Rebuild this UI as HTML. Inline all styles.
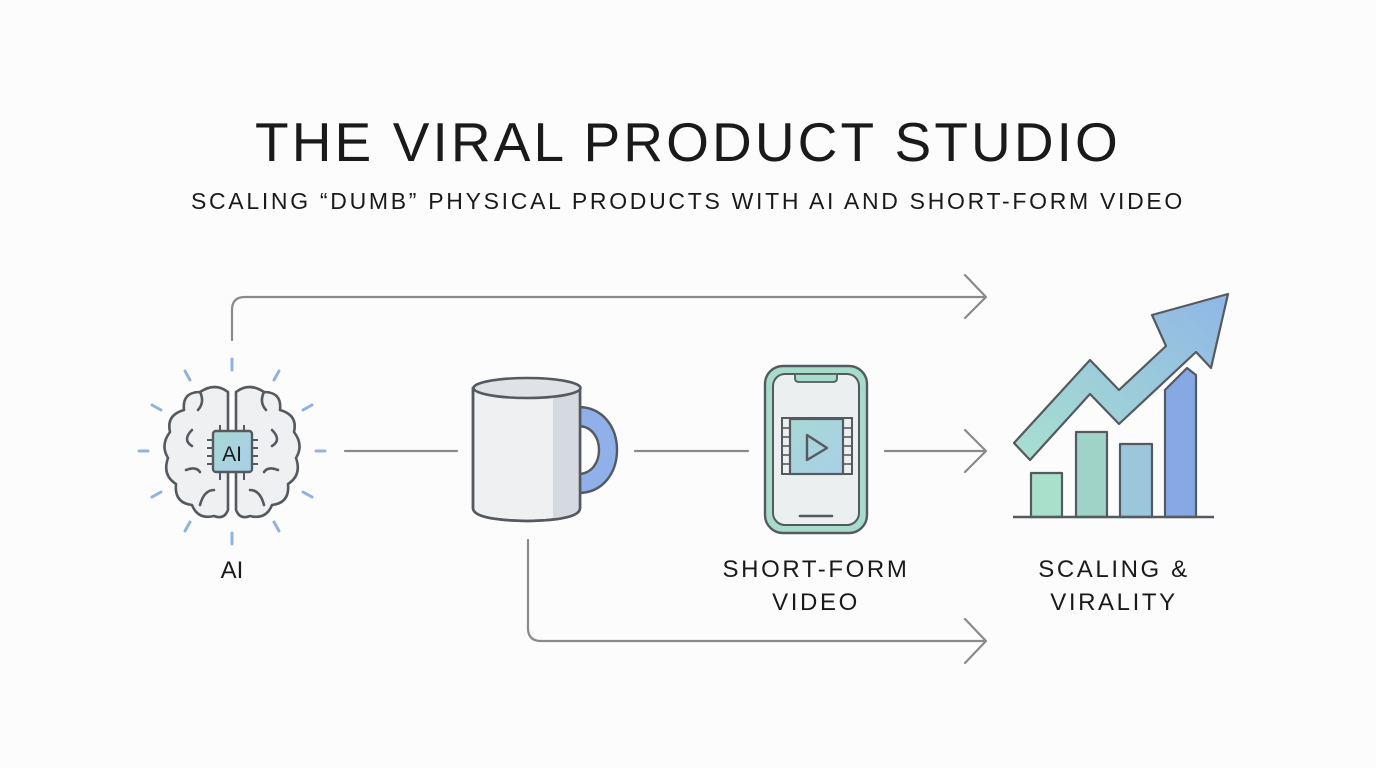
<!DOCTYPE html>
<html><head><meta charset="utf-8"><style>
html,body{margin:0;padding:0;background:#fcfcfc;}
svg{display:block;}
text{font-family:"Liberation Sans",sans-serif;fill:#1a1a1a;}
</style></head><body>
<svg width="1376" height="768" viewBox="0 0 1376 768" xmlns="http://www.w3.org/2000/svg">
<defs>
<linearGradient id="g1" x1="0" y1="1" x2="1" y2="0"><stop offset="0" stop-color="#a8e0cf"/><stop offset="1" stop-color="#8fb6e6"/></linearGradient>
<linearGradient id="chip" x1="0" y1="0" x2="1" y2="1"><stop offset="0" stop-color="#a8d8d4"/><stop offset="1" stop-color="#a9cfe8"/></linearGradient>
</defs>
<rect width="1376" height="768" fill="#fcfcfc"/>
<text x="688" y="161" font-size="55" text-anchor="middle" letter-spacing="3.1">THE VIRAL PRODUCT STUDIO</text>
<text x="688" y="209" font-size="23" text-anchor="middle" letter-spacing="2.7">SCALING “DUMB” PHYSICAL PRODUCTS WITH AI AND SHORT-FORM VIDEO</text>

<g fill="none" stroke="#8a8a8a" stroke-width="2.2" stroke-linecap="round" stroke-linejoin="round">
<path d="M232 340 V310 Q232 297 245 297 H985"/>
<path d="M965 275 L986 297 L965 318"/>
<path d="M345 451 H457"/>
<path d="M635 451 H748"/>
<path d="M885 451 H985"/>
<path d="M965 430 L986 451 L965 472"/>
<path d="M528 540 V628 Q528 641 541 641 H985"/>
<path d="M965 619 L986 641 L965 663"/>
</g>

<g stroke="#8fb3e0" stroke-width="3" stroke-linecap="round">
<line x1="232" y1="359" x2="232" y2="370"/><line x1="232" y1="533" x2="232" y2="544"/>
<line x1="139" y1="451" x2="148" y2="451"/><line x1="316" y1="451" x2="325" y2="451"/>
<line x1="185" y1="371" x2="190" y2="380"/><line x1="279" y1="371" x2="274" y2="380"/>
<line x1="152" y1="405" x2="161" y2="410"/><line x1="312" y1="405" x2="303" y2="410"/>
<line x1="152" y1="497" x2="161" y2="492"/><line x1="312" y1="497" x2="303" y2="492"/>
<line x1="185" y1="531" x2="190" y2="522"/><line x1="279" y1="531" x2="274" y2="522"/>
</g>
<g stroke="#555a60" stroke-width="2.6" fill="#eef0f2" stroke-linejoin="round" stroke-linecap="round">
<path d="M228 392 Q215 382 200 392 Q182 392 184 410 Q166 415 170 432 Q160 445 168 458 Q162 475 176 484 Q174 503 192 505 Q198 520 214 516 Q224 520 228 510 Z"/>
<path d="M236 392 Q249 382 264 392 Q282 392 280 410 Q298 415 294 432 Q304 445 296 458 Q302 475 288 484 Q290 503 272 505 Q266 520 250 516 Q240 520 236 510 Z"/>
<path d="M192 430 Q182 440 192 446" fill="none"/><path d="M272 430 Q282 440 272 446" fill="none"/>
<path d="M200 392 Q205 402 198 410" fill="none"/><path d="M264 392 Q259 402 266 410" fill="none"/>
<path d="M186 470 Q196 466 200 472" fill="none"/><path d="M278 470 Q268 466 264 472" fill="none"/>
<path d="M200 505 Q204 490 214 490" fill="none"/><path d="M264 505 Q260 490 250 490" fill="none"/>
</g>
<g stroke="#555a60" stroke-width="2">
<line x1="220" y1="425" x2="220" y2="480"/><line x1="228" y1="425" x2="228" y2="480"/><line x1="236" y1="425" x2="236" y2="480"/><line x1="244" y1="425" x2="244" y2="480"/>
<line x1="207" y1="440" x2="258" y2="440"/><line x1="207" y1="448" x2="258" y2="448"/><line x1="207" y1="456" x2="258" y2="456"/><line x1="207" y1="464" x2="258" y2="464"/>
</g>
<rect x="213" y="431" width="39" height="41" rx="3" fill="url(#chip)" stroke="#555a60" stroke-width="2.4"/>
<text x="232" y="461" font-size="21" text-anchor="middle" fill="#333">AI</text>
<text x="232" y="578" font-size="24" text-anchor="middle">AI</text>

<path d="M578 407 C630 407 630 493 578 493 L578 474 C606 474 606 426 578 426 Z" fill="#8fb0e8" stroke="#555a60" stroke-width="2.4" stroke-linejoin="round"/>
<path d="M473 388 V508 Q473 520 527 521 Q580 520 580 508 V388 Z" fill="#eef0f2" stroke="#555a60" stroke-width="2.6"/>
<path d="M553 395 V519 Q575 515 580 508 V388 Z" fill="#d5d9e0"/>
<path d="M473 388 V508 Q473 520 527 521 Q580 520 580 508 V388" fill="none" stroke="#555a60" stroke-width="2.6"/>
<ellipse cx="527" cy="388" rx="53.5" ry="10" fill="#dfe3e8" stroke="#555a60" stroke-width="2.6"/>

<rect x="765" y="366" width="102" height="167" rx="18" fill="#a7dccb" stroke="#555a60" stroke-width="2.4"/>
<rect x="773" y="374" width="86" height="151" rx="12" fill="#eceff0" stroke="#555a60" stroke-width="2"/>
<path d="M795 374 H837 V378 Q837 382 833 382 H799 Q795 382 795 378 Z" fill="#a7dccb" stroke="#555a60" stroke-width="1.8"/>
<line x1="800" y1="516" x2="832" y2="516" stroke="#555a60" stroke-width="2.6" stroke-linecap="round"/>
<rect x="782" y="418" width="70" height="56" fill="#eceff0" stroke="#555a60" stroke-width="2"/>
<g stroke="#555a60" stroke-width="1.6"><line x1="782" y1="428" x2="790" y2="428"/><line x1="782" y1="437" x2="790" y2="437"/><line x1="782" y1="446" x2="790" y2="446"/><line x1="782" y1="455" x2="790" y2="455"/><line x1="782" y1="464" x2="790" y2="464"/>
<line x1="843" y1="428" x2="852" y2="428"/><line x1="843" y1="437" x2="852" y2="437"/><line x1="843" y1="446" x2="852" y2="446"/><line x1="843" y1="455" x2="852" y2="455"/><line x1="843" y1="464" x2="852" y2="464"/></g>
<rect x="790" y="419" width="53" height="55" fill="url(#chip)" stroke="#555a60" stroke-width="2.2"/>
<path d="M807 435 L827 448 L807 460 Z" fill="none" stroke="#555a60" stroke-width="2.4" stroke-linejoin="round"/>
<text x="816" y="577" font-size="24" text-anchor="middle" letter-spacing="2.6">SHORT-FORM</text>
<text x="816" y="610" font-size="24" text-anchor="middle" letter-spacing="2.6">VIDEO</text>

<g stroke="#555a60" stroke-width="2.2" stroke-linejoin="round">
<rect x="1031" y="473" width="31" height="44" fill="#a9e0cb"/>
<rect x="1076" y="432" width="31" height="85" fill="#9fd3c8"/>
<rect x="1120" y="444" width="32" height="73" fill="#9cc6dc"/>
<path d="M1165 517 V390 L1187 368 L1196 375 V517 Z" fill="#86a9e6"/>
<path d="M1014 443 L1090 360 L1119 390 L1166 346 L1152 315 L1228 294 L1211 368 L1196 352 L1119 424 L1090 394 L1030 460 Z" fill="url(#g1)"/>
</g>
<line x1="1013" y1="517" x2="1214" y2="517" stroke="#555a60" stroke-width="2.4"/>
<text x="1114" y="577" font-size="24" text-anchor="middle" letter-spacing="2.6">SCALING &amp;</text>
<text x="1114" y="610" font-size="24" text-anchor="middle" letter-spacing="2.6">VIRALITY</text>
</svg>
</body></html>
